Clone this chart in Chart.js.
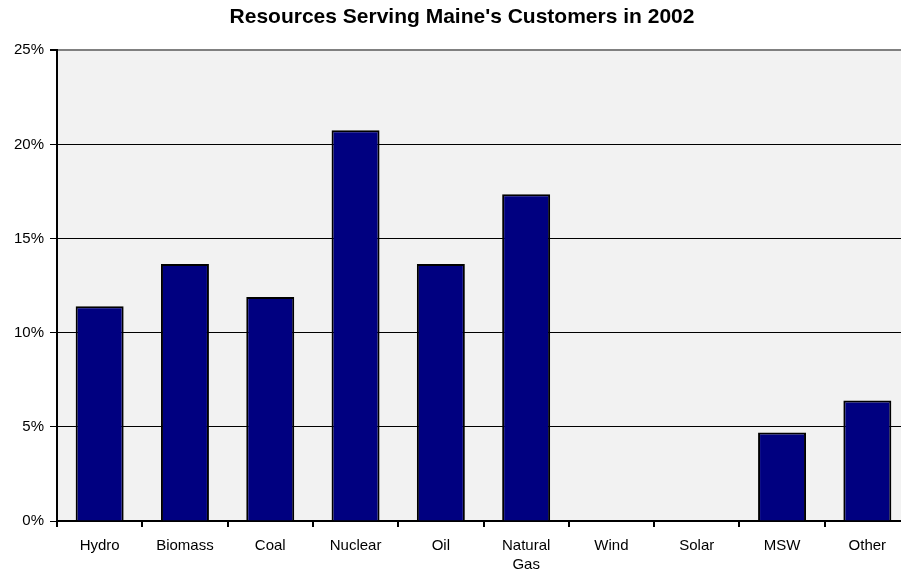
<!DOCTYPE html>
<html>
<head>
<meta charset="utf-8">
<script src="https://cdn.jsdelivr.net/npm/chart.js@4"></script>
<style>
  html, body { margin: 0; padding: 0; background: #fff; overflow: hidden; }
  canvas { display: block; }
</style>
</head>
<body>
<canvas id="resourceChart" width="924" height="575"></canvas>
<script>
// Values (share of resources, in %)
const categories = ['Hydro', 'Biomass', 'Coal', 'Nuclear', 'Oil', ['Natural', 'Gas'], 'Wind', 'Solar', 'MSW', 'Other'];
const shares = [11.4, 13.65, 11.9, 20.75, 13.65, 17.35, 0, 0, 4.7, 6.4];
const yTicks = [0, 5, 10, 15, 20, 25];

const chartTitle = "Resources Serving Maine's Customers in 2002";
const fontFamily = 'Liberation Sans, Arial, sans-serif';

// Grey plot area like the original spreadsheet chart
const plotBackground = {
    id: 'plotBackground',
    beforeDraw(chart) {
        const { ctx, chartArea } = chart;
        ctx.save();
        ctx.fillStyle = '#f2f2f2';
        ctx.fillRect(chartArea.left, chartArea.top, chartArea.right - chartArea.left, chartArea.bottom - chartArea.top);
        ctx.restore();
    }
};

const ctx = document.getElementById('resourceChart').getContext('2d');
new Chart(ctx, {
    type: 'bar',
    data: {
        labels: categories,
        datasets: [{
            label: 'Share',
            data: shares,
            backgroundColor: '#000080',
            borderColor: '#000000',
            borderWidth: 2,
            inflateAmount: 0,
            categoryPercentage: 0.5625,
            barPercentage: 1
        }]
    },
    options: {
        responsive: false,
        animation: false,
        layout: { padding: 0 },
        plugins: {
            legend: { display: false },
            tooltip: { enabled: false },
            title: {
                display: true,
                text: chartTitle,
                color: '#000',
                font: { family: fontFamily, size: 21, weight: 'bold' },
                padding: { top: 5, bottom: 20 }
            }
        },
        scales: {
            x: {
                offset: true,
                grid: {
                    offset: true,
                    drawOnChartArea: false,
                    tickLength: 6,
                    color: '#000',
                    lineWidth: 2
                },
                border: { color: '#000', width: 2 },
                ticks: {
                    color: '#000',
                    padding: 9,
                    maxRotation: 0,
                    autoSkip: false,
                    font: { family: fontFamily, size: 15, lineHeight: 1.3 }
                },
                afterFit(scale) { scale.height = 54; }
            },
            y: {
                min: 0,
                max: 25,
                afterBuildTicks(scale) { scale.ticks = yTicks.map(v => ({ value: v })); },
                grid: {
                    color: (c) => (c.tick && c.tick.value === 25 ? '#808080' : '#000'),
                    lineWidth: (c) => (c.tick && c.tick.value === 25 ? 2 : 1),
                    tickColor: '#000',
                    tickLength: 7
                },
                border: { color: '#000', width: 2 },
                ticks: {
                    color: '#000',
                    padding: 6,
                    font: { family: fontFamily, size: 15 },
                    callback: (value) => value + '%'
                },
                afterFit(scale) { scale.width = 57; }
            },
            // empty right-hand spacer so the title centres where the original one does
            spacer: {
                type: 'linear',
                position: 'right',
                display: true,
                grid: { display: false },
                border: { display: false },
                ticks: { display: false },
                afterFit(scale) { scale.width = 14; }
            }
        }
    },
    plugins: [plotBackground]
});
</script>
</body>
</html>
